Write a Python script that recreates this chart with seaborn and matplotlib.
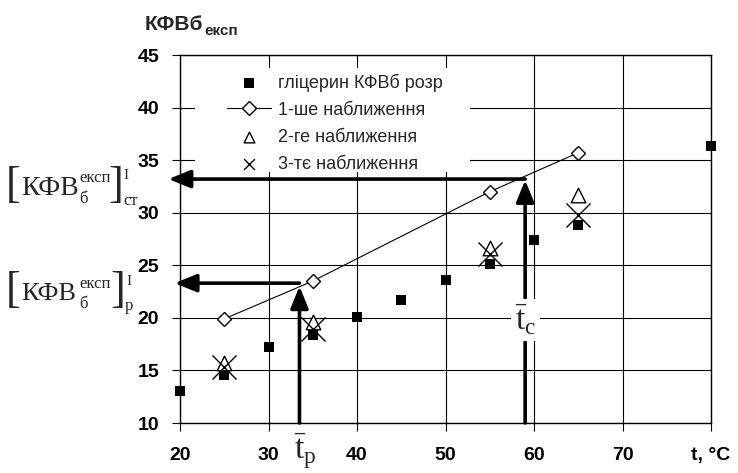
import matplotlib
matplotlib.use("Agg")
import matplotlib.pyplot as plt
from matplotlib.patches import Rectangle
import seaborn as sns
import numpy as np

# ---- data ----
t_calc = [20, 25, 30, 35, 40, 45, 50, 55, 60, 65, 80]
k_calc = [13.0, 14.6, 17.2, 18.4, 20.1, 21.7, 23.6, 25.1, 27.4, 28.8, 36.3]

t_appr = [25, 35, 55, 65]
k_appr1 = [19.9, 23.5, 32.0, 35.7]
k_appr2 = [15.7, 19.6, 26.6, 31.7]
k_appr3 = [15.3, 18.9, 26.1, 29.8]

labels = ["гліцерин КФВб розр", "1-ше наближення", "2-ге наближення", "3-тє наближення"]

x_ticks = [20, 30, 40, 50, 60, 70, 80]
x_ticklabels = ["20", "30", "40", "50", "60", "70", "t, \u00b0C"]
y_ticks = [10, 15, 20, 25, 30, 35, 40, 45]

t_p, k_p = 33.5, 23.3
t_c, k_c = 59.0, 33.2

W, H = 738, 473

# ---- style ----
sns.set_style("white")
plt.rcParams["font.family"] = ["Liberation Sans", "DejaVu Sans"]
plt.rcParams["mathtext.fontset"] = "custom"
plt.rcParams["mathtext.rm"] = "Liberation Serif"
plt.rcParams["mathtext.it"] = "Liberation Serif:italic"
plt.rcParams["mathtext.bf"] = "Liberation Sans:bold"

fig = plt.figure(figsize=(W/100, H/100), dpi=100)
ax = fig.add_axes([180/W, 1-423/H, 531/W, 368/H])

sns.scatterplot(x=t_calc, y=k_calc, marker="s", s=55, color="black",
                edgecolor="black", linewidth=0, label=labels[0], ax=ax, zorder=4)
sns.lineplot(x=t_appr, y=k_appr1, color="black", linewidth=0.8, marker="D",
             markersize=7, markerfacecolor="white", markeredgecolor="black",
             markeredgewidth=1.0, label=labels[1], ax=ax, zorder=5)
sns.scatterplot(x=t_appr, y=k_appr2, marker="^", s=110, facecolor="white",
                edgecolor="black", linewidth=1.0, label=labels[2], ax=ax, zorder=5)
sns.scatterplot(x=t_appr, y=k_appr3, marker="x", s=300, color="black",
                linewidth=1.0, label=labels[3], ax=ax, zorder=6)
for coll in ax.collections:
    coll.set_clip_on(False)

ax.set_xlim(20, 80)
ax.set_ylim(10, 45)
ax.set_xticks(x_ticks)
ax.set_xticklabels(x_ticklabels)
ax.set_yticks(y_ticks)
for lab in ax.get_xticklabels() + ax.get_yticklabels():
    lab.set_fontweight("bold")
    lab.set_fontsize(14)
ax.tick_params(axis="both", direction="out", length=6, width=0.8, color="black",
               labelcolor="black")
ax.tick_params(axis="x", pad=11, bottom=True)
ax.tick_params(axis="y", pad=9, left=True)
ax.grid(True, color="black", linewidth=0.8)
ax.set_axisbelow(True)
for sp in ax.spines.values():
    sp.set_color("black")
    sp.set_linewidth(1.0)
ax.set_xlabel("")
ax.set_ylabel("")

# white area behind the legend (hides grid lines)
px2ax = lambda x, y: ((x - 180) / 531, (423 - y) / 368)
x0, y0 = px2ax(195, 172)
x1, y1 = px2ax(470, 68)
ax.add_patch(Rectangle((x0, y0), x1 - x0, y1 - y0, transform=ax.transAxes,
                       facecolor="white", edgecolor="none", zorder=2))

# legend
lx, ly = px2ax(222, 68)
leg = ax.legend(loc="upper left", bbox_to_anchor=(lx, ly), fontsize=13,
                frameon=False, handlelength=2.4, handletextpad=0.4,
                labelspacing=0.55, borderpad=0.3, borderaxespad=0)
leg.set_zorder(3)
hs = leg.legend_handles
hs[0].set_sizes([55])
hs[2].set_sizes([60])
hs[3].set_sizes([60])

# arrows
ap = dict(arrowstyle="-|>,head_length=1.1,head_width=0.45", lw=2.6, color="black",
          shrinkA=0, shrinkB=0, mutation_scale=12)
ax.annotate("", xy=(t_p, k_p - 0.3), xytext=(t_p, 10), arrowprops=ap, zorder=7)
ax.annotate("", xy=(19.4, k_p), xytext=(t_p, k_p), arrowprops=ap, zorder=7,
            annotation_clip=False)
ax.annotate("", xy=(t_c, k_c - 0.1), xytext=(t_c, 10), arrowprops=ap, zorder=7)
ax.annotate("", xy=(18.7, k_c), xytext=(t_c, k_c), arrowprops=ap, zorder=7,
            annotation_clip=False)

# t labels
ax.text(t_c + 0.05, 19.8, r"$\bar{\mathrm{t}}_{\mathrm{с}}$", fontsize=24,
        ha="center", va="center", zorder=9,
        bbox=dict(facecolor="white", edgecolor="none", pad=3))
ax.annotate(r"$\bar{\mathrm{t}}_{\mathrm{р}}$", xy=(t_p + 0.6, 10),
            xytext=(0, -26), textcoords="offset points", fontsize=24,
            ha="center", va="baseline", annotation_clip=False, zorder=9)

# left composite labels
def put(x, y, s, size, family="Liberation Serif", va="baseline", weight="normal"):
    return fig.text(x / W, 1 - y / H, s, fontsize=size, family=family,
                    ha="left", va=va, weight=weight)

def bracket_label(yc, base, sup_base, sub_base, sub_txt, rb_x, idx_x, sub_x, size):
    put(6, yc, "[", 32, va="center")
    put(21, base, "КФВ", size)
    put(79, sup_base, "експ", 12)
    put(79, base + 8, "б", 12)
    put(rb_x, yc, "]", 32, va="center")
    put(idx_x, sup_base - 3, "I", 11)
    put(sub_x, sub_base, sub_txt, 12)

bracket_label(186, 195, 182, 205, "ст", 108, 123, 123, 20)
bracket_label(291, 300, 288, 310, "р", 110, 126, 125, 19)

# y axis title
fig.canvas.draw()
r = fig.canvas.get_renderer()
t1 = put(145, 30, "КФВб", 15, family="Liberation Sans", weight="bold")
bb = t1.get_window_extent(renderer=r)
put(bb.x1 + 1, 35, "експ", 11, family="Liberation Sans", weight="bold")

fig.savefig("out.png", dpi=100)
